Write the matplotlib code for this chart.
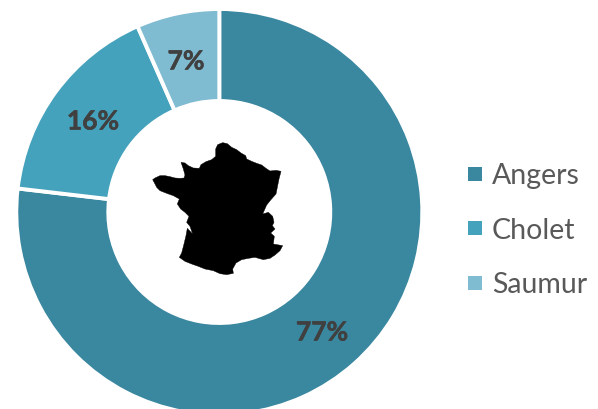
import matplotlib
matplotlib.use("Agg")
import matplotlib.pyplot as plt
import matplotlib.patheffects as pe
from matplotlib.patches import Polygon, Rectangle

categories = ["Angers", "Cholet", "Saumur"]
shares = [76.85, 16.55, 6.6]
share_labels = ["77%", "16%", "7%"]
colors = ["#3A87A0", "#45A2BC", "#7FBBD1"]

# Silhouette of France, in reference pixels (3x crop)
map_x = [38,45,60,75,90,105,120,132,135,130,123,135,145,160,178,183,198,215,227,227,233,248,262,275,290,303,317,320,335,350,365,378,390,408,423,417,412,408,392,380,368,385,398,402,397,405,392,403,400,428,420,405,390,370,345,325,305,288,278,280,260,240,220,195,175,155,135,118,125,132,138,142,158,150,140,147,135,122,112,118,100,80,60,50,45]
map_y = [152,147,140,140,143,147,148,147,138,120,100,102,110,117,118,107,98,92,82,60,47,41,44,55,62,72,80,90,97,103,108,118,126,124,127,150,175,195,213,228,255,250,262,280,290,300,312,322,345,350,365,378,388,392,385,388,392,402,420,433,437,434,425,420,412,405,397,385,372,345,320,298,315,292,280,262,250,240,225,210,200,193,185,175,165]

W, H = 598, 410
fig = plt.figure(figsize=(W/100, H/100), dpi=100)
ax = fig.add_axes([0, 0, 1, 1])

cx, cy, R, r = 219.3, 213, 203, 111
ax.pie(shares, colors=colors, startangle=-90, counterclock=True, center=(cx, cy), radius=R,
       wedgeprops=dict(width=R-r, edgecolor="white", linewidth=2.8), frame=True)
ax.set_aspect("equal")
ax.set_xlim(0, W)
ax.set_ylim(H, 0)
ax.axis("off")

for (x, y), t in zip([(322, 333.5), (93, 122.5), (186, 62.5)], share_labels):
    ax.text(x, y, t, ha="center", va="center", fontsize=19, fontweight="bold", family="Lato", color="#404040",
            path_effects=[pe.withStroke(linewidth=0.4, foreground="#404040")])

ax.add_patch(Polygon([(140 + x/3, 130 + y/3) for x, y in zip(map_x, map_y)], closed=True, fc="black", ec="black", lw=0.3))

for name, c, y in zip(categories, colors, [174.5, 229, 283.5]):
    ax.add_patch(Rectangle((468, y-7), 14, 14, fc=c, ec="none"))
    ax.text(492, y - 0.5, name, ha="left", va="center_baseline", fontsize=20.5, family="Lato", color="#595959")

fig.savefig("out.png", dpi=100)
